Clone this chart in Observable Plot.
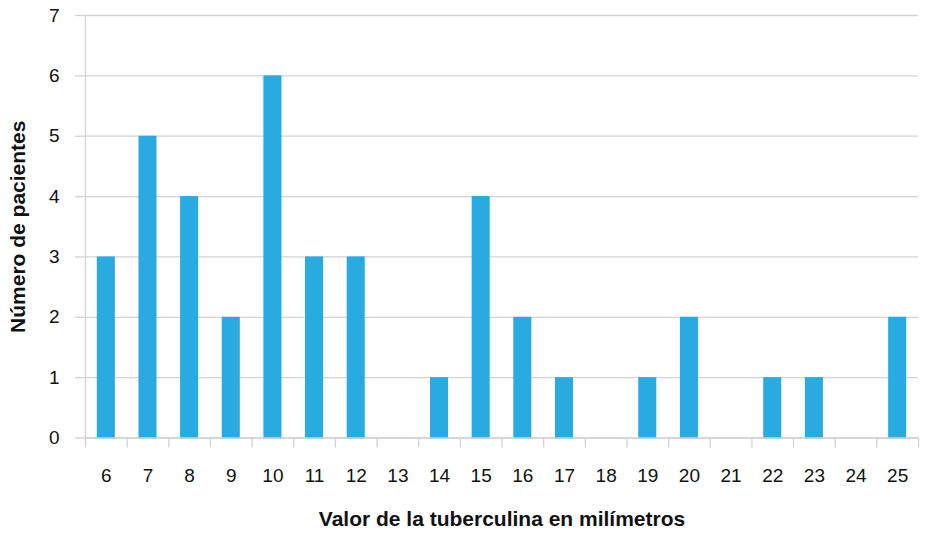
<!DOCTYPE html>
<html>
<head>
<meta charset="utf-8">
<script src="https://cdn.jsdelivr.net/npm/d3@7"></script>
<script src="https://cdn.jsdelivr.net/npm/@observablehq/plot@0.6"></script>
<style>
  html, body { margin: 0; padding: 0; background: #fff; }
  svg { font-family: "Liberation Sans", Arial, sans-serif; }
</style>
</head>
<body>
<div id="chart"></div>
<script>
const milimetros = [6, 7, 8, 9, 10, 11, 12, 13, 14, 15, 16, 17, 18, 19, 20, 21, 22, 23, 24, 25];
const pacientes  = [3, 5, 4, 2, 6, 3, 3, 0, 1, 4, 2, 1, 0, 1, 2, 0, 1, 1, 0, 2];
const yTicks = [0, 1, 2, 3, 4, 5, 6, 7];

const data = milimetros.map((m, i) => ({mm: m, n: pacientes[i]}));
const bordes = [milimetros[0] - 0.5, ...milimetros.map(m => m + 0.5)];
const gris = "#d3d3d3";

const chart = Plot.plot({
  width: 926,
  height: 533,
  marginLeft: 85,
  marginRight: 8,
  marginTop: 15,
  marginBottom: 95.5,
  style: {fontFamily: "'Liberation Sans', Arial, sans-serif", background: "#fff"},
  x: {type: "linear", domain: [milimetros[0] - 0.5, milimetros[milimetros.length - 1] + 0.5]},
  y: {domain: [0, 7]},
  marks: [
    Plot.gridY(yTicks, {stroke: gris, strokeOpacity: 1, strokeWidth: 1.3}),
    Plot.ruleX([milimetros[0] - 0.5], {stroke: gris, strokeWidth: 1.3}),
    Plot.rectY(data.filter(d => d.n > 0), {
      x1: d => d.mm - 0.5, x2: d => d.mm + 0.5, y1: 0, y2: "n",
      fill: "#29abe2", insetLeft: 11.8, insetRight: 11.8, insetBottom: -1
    }),
    Plot.axisY(yTicks, {
      tickSize: 10, tickPadding: 16, stroke: gris, strokeWidth: 1.3, strokeOpacity: 1,
      fontSize: 19, fill: "#111", tickFormat: d => String(d),
      label: "Número de pacientes", labelAnchor: "center", labelArrow: "none", labelOffset: 75
    }),
    Plot.axisX(bordes, {
      tickSize: 10, tickFormat: () => "", stroke: gris, strokeWidth: 1.3, strokeOpacity: 1, label: null
    }),
    Plot.axisX(milimetros, {
      tickSize: 0, tickPadding: 30, fontSize: 19, fill: "#111", tickFormat: d => String(d),
      label: "Valor de la tuberculina en milímetros", labelAnchor: "center", labelArrow: "none", labelOffset: 88
    }),
    Plot.ruleY([0], {stroke: gris, strokeWidth: 1.3})
  ]
});

// bold axis titles
chart.querySelectorAll("g[aria-label='y-axis label'] text, g[aria-label='x-axis label'] text").forEach(t => {
  t.setAttribute("font-weight", "bold");
  t.setAttribute("font-size", "21");
  t.setAttribute("fill", "#111");
});

document.getElementById("chart").appendChild(chart);
</script>
</body>
</html>
